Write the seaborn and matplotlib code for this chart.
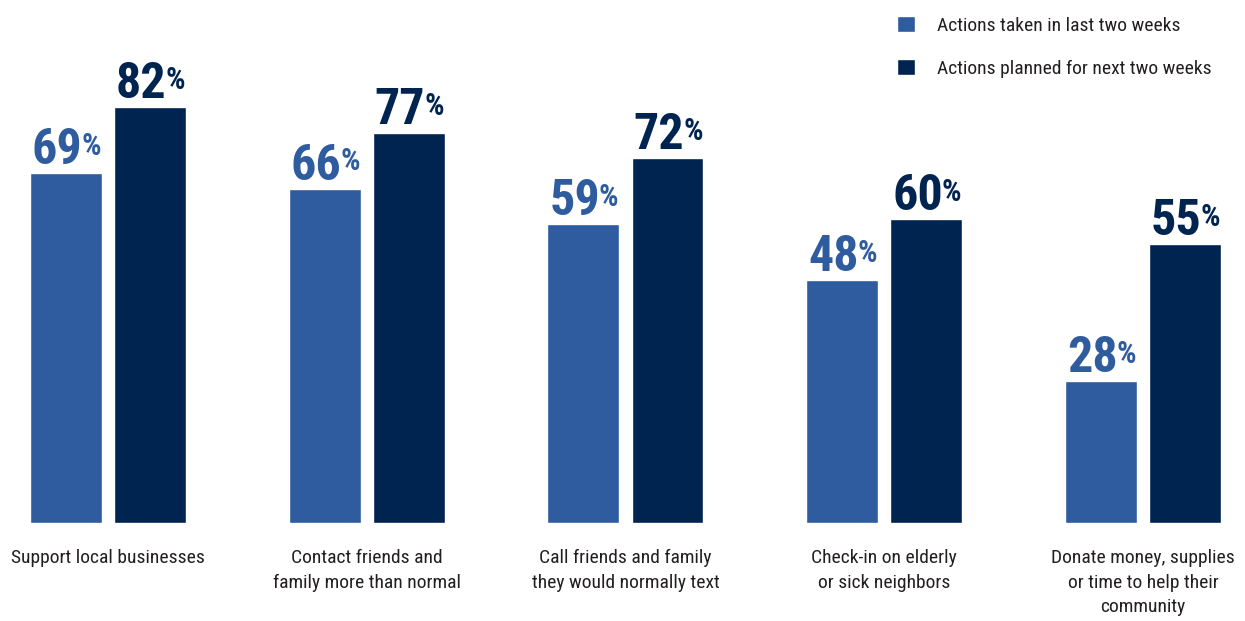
import seaborn as sns
import matplotlib.pyplot as plt
import pandas as pd
from matplotlib import font_manager

names = {f.name for f in font_manager.fontManager.ttflist}
FAM = next(f for f in ['Roboto Condensed', 'Archivo Narrow', 'PT Sans Narrow', 'Roboto'] if f in names)

categories = [
    "Support local businesses",
    "Contact friends and\nfamily more than normal",
    "Call friends and family\nthey would normally text",
    "Check-in on elderly\nor sick neighbors",
    "Donate money, supplies\nor time to help their\ncommunity",
]
series = ["Actions taken in last two weeks", "Actions planned for next two weeks"]
taken = [69, 66, 59, 48, 28]
planned = [82, 77, 72, 60, 55]

C_LIGHT = "#2E5C9E"
C_DARK = "#002450"
TXT = "#231F20"

df = pd.DataFrame({
    "category": categories * 2,
    "value": taken + planned,
    "series": [series[0]] * len(categories) + [series[1]] * len(categories),
})

sns.set_style("white")
plt.rcParams['font.family'] = [FAM, 'DejaVu Sans']

fig = plt.figure(figsize=(12.45, 6.21), dpi=100)
ax = fig.add_axes([0, 98 / 621, 1, 523 / 621])
sns.barplot(data=df, x="category", y="value", hue="series",
            palette=[C_LIGHT, C_DARK], width=0.65, gap=0.145,
            ax=ax, saturation=1, legend=True)

ax.set_xlim(-0.417, 4.394)
ax.set_ylim(0, 103.2)
for s in ax.spines.values():
    s.set_visible(False)
ax.set_xlabel("")
ax.set_ylabel("")
ax.set_yticks([])
ax.tick_params(axis="x", length=0, pad=19, labelsize=14, labelcolor=TXT)
for t in ax.get_xticklabels():
    t.set_linespacing(1.45)

handles, labels = ax.get_legend_handles_labels()
ax.legend(handles, labels, loc="upper left",
          bbox_to_anchor=(897 / 1245, 1 - 16 / 621), bbox_transform=fig.transFigure,
          frameon=False, fontsize=14, handlelength=0.9, handleheight=0.9,
          handletextpad=1.15, labelspacing=1.25, borderaxespad=0, borderpad=0,
          labelcolor=TXT)

nums = []
for cont, col in zip(ax.containers, [C_LIGHT, C_DARK]):
    for bar in cont:
        xc = bar.get_x() + bar.get_width() / 2
        h = bar.get_height()
        n = ax.annotate(f"{h:.0f}", xy=(xc, h), xytext=(0, 9), textcoords="offset pixels",
                        ha="center", va="baseline", fontsize=36, fontweight="bold", color=col)
        p = ax.annotate("%", xy=(1, 0.92), xycoords=n, xytext=(-1, 0), textcoords="offset pixels",
                        ha="left", va="top", fontsize=22, fontweight="bold", color=col)
        nums.append((n, p))

fig.canvas.draw()
r = fig.canvas.get_renderer()
for n, p in nums:
    pw = p.get_window_extent(r).width
    n.xyann = (-pw / 2 + 1, 9)

fig.savefig("out.png", dpi=100)
